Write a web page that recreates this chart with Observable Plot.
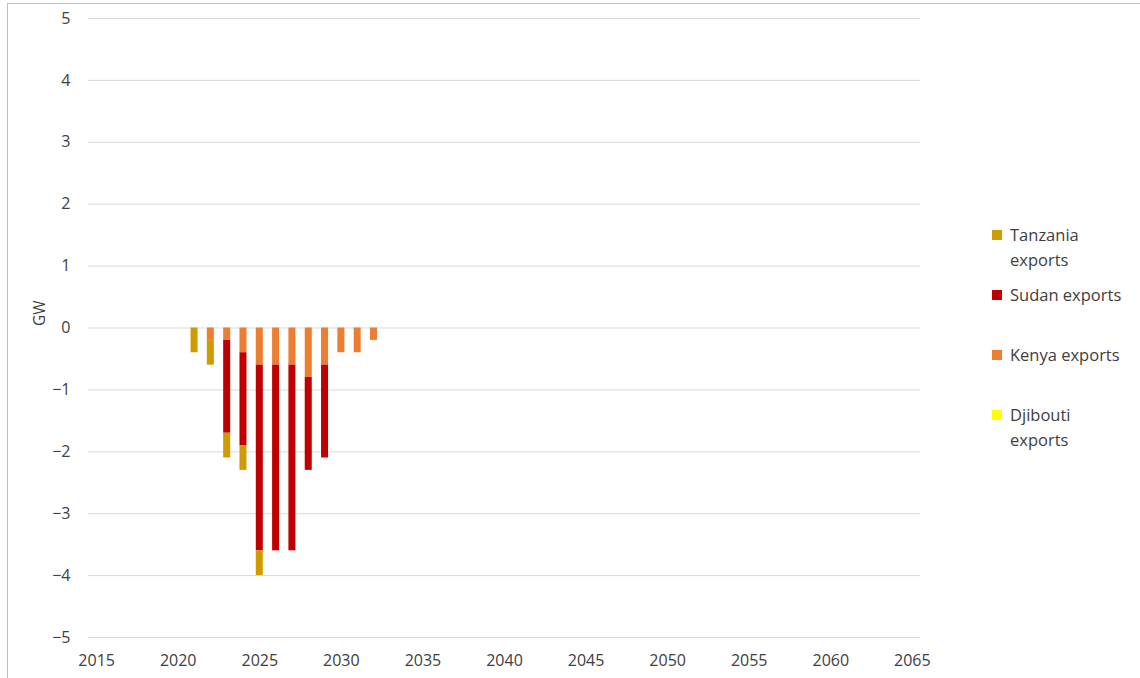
<!DOCTYPE html>
<html>
<head>
<meta charset="utf-8">
<script src="https://cdn.jsdelivr.net/npm/d3@7"></script>
<script src="https://cdn.jsdelivr.net/npm/@observablehq/plot@0.6"></script>
<style>
  html, body { margin: 0; padding: 0; background: #fff; }
  #wrap { position: relative; width: 1140px; height: 678px; overflow: hidden; font-family: "Open Sans", "Noto Sans", sans-serif; }
  #frame { position: absolute; left: 7px; top: 3px; width: 1200px; height: 700px; border-left: 1px solid #bfbfbf; border-top: 1px solid #bfbfbf; }
  #chart { position: absolute; left: 0; top: 0; }
  .leg { position: absolute; left: 992px; font-size: 16.5px; color: #404040; line-height: 25px; }
  .leg .sw { position: absolute; left: 0; top: 8px; width: 10px; height: 10px; }
  .leg .tx { margin-left: 18px; }
</style>
</head>
<body>
<div id="wrap"><div id="frame"></div><div id="chart"></div></div>
<script>
// Data
const years = [2021, 2022, 2023, 2024, 2025, 2026, 2027, 2028, 2029, 2030, 2031, 2032];
const tanzaniaExports = [-0.4, -0.4, -0.4, -0.4, -0.4, 0, 0, 0, 0, 0, 0, 0];
const sudanExports    = [0, 0, -1.5, -1.5, -3.0, -3.0, -3.0, -1.5, -1.5, 0, 0, 0];
const kenyaExports    = [0, -0.2, -0.2, -0.4, -0.6, -0.6, -0.6, -0.8, -0.6, -0.4, -0.4, -0.2];
const djiboutiExports = [0, 0, 0, 0, 0, 0, 0, 0, 0, 0, 0, 0];

const seriesNames  = ["Djibouti exports", "Kenya exports", "Sudan exports", "Tanzania exports"];
const seriesColors = ["#FFFF00", "#ED7D31", "#C00000", "#D09B00"];
const seriesValues = [djiboutiExports, kenyaExports, sudanExports, tanzaniaExports];

const xDomain = d3.range(2015, 2066);
const xTickLabels = [2015, 2020, 2025, 2030, 2035, 2040, 2045, 2050, 2055, 2060, 2065];
const yTicks = [-5, -4, -3, -2, -1, 0, 1, 2, 3, 4, 5];

const rows = [];
seriesNames.forEach((s, i) => {
  years.forEach((y, j) => rows.push({year: y, series: s, value: seriesValues[i][j]}));
});

const chart = Plot.plot({
  width: 1140,
  height: 678,
  marginLeft: 88,
  marginRight: 220,
  marginTop: 18,
  marginBottom: 41,
  style: {fontFamily: "'Open Sans', 'Noto Sans', sans-serif", fontSize: "16px", color: "#404040", background: "transparent"},
  x: {type: "band", domain: xDomain, paddingInner: 0.57, paddingOuter: 0.285, round: false, label: null},
  y: {domain: [-5, 5], label: null},
  color: {domain: seriesNames, range: seriesColors},
  marks: [
    Plot.gridY(yTicks, {stroke: "#d9d9d9", strokeOpacity: 1, strokeWidth: 1}),
    Plot.barY(rows, Plot.stackY({order: seriesNames}, {x: "year", y: "value", z: "series", fill: "series"})),
    Plot.axisY(yTicks, {tickSize: 0, tickPadding: 18, fontSize: 16, fill: "#404040", label: null, tickFormat: d => d < 0 ? "\u2212" + Math.abs(d) : String(d)}),
    Plot.axisX(xTickLabels, {tickSize: 0, tickPadding: 17, fontSize: 16, fill: "#404040", label: null, tickFormat: d => String(d)}),
    Plot.text(["GW"], {frameAnchor: "left", dx: -48, dy: -2, rotate: -90, fontSize: 15.5, fill: "#404040"})
  ]
});
document.getElementById("chart").appendChild(chart);

// Legend (HTML, beside the plot)
const legendItems = [
  {name: "Tanzania", rest: "exports", color: seriesColors[3], top: 222, wrap: true},
  {name: "Sudan exports", rest: "", color: seriesColors[2], top: 282, wrap: false},
  {name: "Kenya exports", rest: "", color: seriesColors[1], top: 342, wrap: false},
  {name: "Djibouti", rest: "exports", color: seriesColors[0], top: 402, wrap: true}
];
const wrap = document.getElementById("wrap");
legendItems.forEach(it => {
  const d = document.createElement("div");
  d.className = "leg";
  d.style.top = it.top + "px";
  const sw = document.createElement("div");
  sw.className = "sw";
  sw.style.background = it.color;
  d.appendChild(sw);
  const t = document.createElement("div");
  t.className = "tx";
  t.textContent = it.name;
  d.appendChild(t);
  if (it.wrap) {
    const t2 = document.createElement("div");
    t2.className = "tx";
    t2.textContent = it.rest;
    d.appendChild(t2);
  }
  wrap.appendChild(d);
});
</script>
</body>
</html>
